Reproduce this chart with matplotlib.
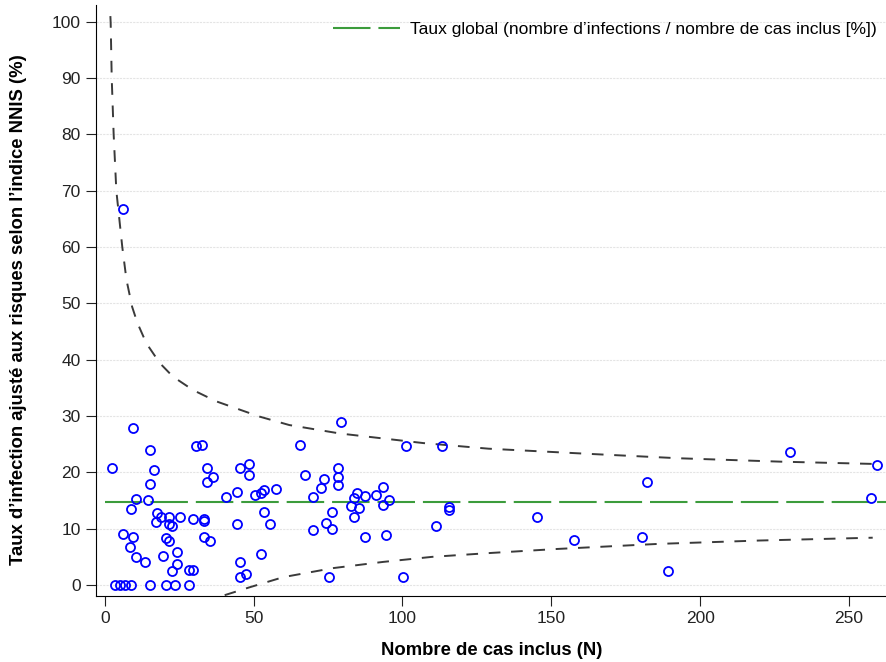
import matplotlib
matplotlib.use("Agg")
import matplotlib.pyplot as plt

# ---------------- data ----------------
cas_inclus = [
    9.5, 2.5, 15.2, 16.4, 15.2, 10.6, 14.4, 8.7, 17.4, 18.8,
    21.6, 25.3, 17.2, 21.5, 22.6, 6.2, 9.5, 20.5, 21.6, 8.6,
    10.6, 13.6, 19.7, 24.4, 24.4, 22.5, 28.2, 29.7, 6.2,
    3.4, 5.0, 6.7, 8.7, 15.2, 20.7, 23.6, 28.2,
    30.6, 32.7, 34.3, 36.4, 34.3, 29.7, 33.4, 33.4, 33.4, 35.5,
    40.7, 44.5, 45.4, 48.4, 48.4, 44.5, 45.4, 45.4, 47.3, 50.6,
    52.5, 53.4, 57.4, 53.4, 55.4, 52.5,
    79.3, 65.5, 101.1, 113.2, 67.4, 73.6, 72.7, 78.4, 78.4, 78.4,
    70.1, 76.4, 74.5, 76.4, 70.1, 75.4, 84.6, 83.7, 87.5, 82.6,
    85.5, 83.7, 87.5, 91.3, 93.6, 95.5, 93.6, 94.6, 100.2, 111.2,
    115.6, 115.6,
    182.3, 230.2, 259.3, 257.4, 145.3, 157.7, 180.4, 189.1,
]
taux = [
    27.8, 20.8, 23.9, 20.5, 18.0, 15.3, 15.1, 13.5, 12.7, 12.1,
    12.1, 12.1, 11.2, 10.8, 10.5, 9.0, 8.5, 8.3, 7.9, 6.7,
    4.9, 4.1, 5.2, 5.9, 3.7, 2.4, 2.7, 2.7, 66.8,
    0, 0, 0, 0, 0, 0, 0, 0,
    24.6, 24.8, 20.8, 19.1, 18.2, 11.8, 11.7, 11.4, 8.6, 7.9,
    15.6, 16.6, 20.8, 21.4, 19.5, 10.8, 4.1, 1.4, 1.9, 16.0,
    16.3, 16.8, 17.0, 13.0, 10.8, 5.5,
    28.9, 24.9, 24.6, 24.6, 19.5, 18.8, 17.3, 20.8, 19.2, 17.8,
    15.6, 13.0, 11.0, 10.0, 9.7, 1.4, 16.4, 15.5, 15.8, 14.0,
    13.7, 12.0, 8.5, 16.0, 17.4, 15.1, 14.2, 8.8, 1.4, 10.5,
    13.9, 13.3,
    18.3, 23.6, 21.3, 15.5, 12.0, 8.0, 8.5, 2.4,
]

taux_global = 14.7

# control limits
lim_sup_n = [1.9, 2.0, 2.35, 3.0, 3.9, 4.7, 5.9, 7.3, 9.2, 11, 14, 18.5,
             22.9, 29.7, 37.5, 52, 62, 79, 107, 129, 162, 193, 227, 258]
lim_sup_v = [101, 99.8, 90, 80, 70, 66, 60, 54.2, 49.4, 46.5, 42.9, 39.4,
             37, 34.6, 32.6, 29.9, 28.4, 26.9, 25.2, 24.2, 23.3, 22.5, 21.9, 21.5]
lim_inf_n = [40.3, 48.7, 60, 76.7, 93.5, 110, 130, 152, 186, 220, 258]
lim_inf_v = [-1.8, -0.4, 1.4, 3.0, 4.1, 5.0, 5.7, 6.4, 7.3, 7.9, 8.4]

xticks = [0, 50, 100, 150, 200, 250]
yticks = [0, 10, 20, 30, 40, 50, 60, 70, 80, 90, 100]

# ---------------------- plot ----------------------
plt.rcParams['font.family'] = ['Liberation Sans', 'DejaVu Sans']

fig = plt.figure(figsize=(8.87, 6.62), dpi=100)
ax = fig.add_axes([0.108, 0.0997, 0.892, 0.893])

ax.plot(lim_sup_n, lim_sup_v, color='#3a3a3a', lw=1.4, dashes=(6, 5.5), zorder=2)
ax.plot(lim_inf_n, lim_inf_v, color='#3a3a3a', lw=1.4, dashes=(6, 5.5), zorder=2)
ax.plot([0, 270], [taux_global, taux_global], color='#3c9c3c', lw=1.5,
        dashes=(18, 3.8), zorder=2,
        label='Taux global (nombre d\u2019infections / nombre de cas inclus [%])')
ax.plot(cas_inclus, taux, 'o', mfc='none', mec='#0000ff', ms=6.5, mew=1.3,
        zorder=3)

ax.set_xlim(-3, 262.8)
ax.set_ylim(-1.95, 103)
ax.set_xticks(xticks)
ax.set_yticks(yticks)
ax.yaxis.grid(True, color='#e4e4e4', lw=0.8, ls=(0, (2, 1)))
ax.set_axisbelow(True)
for s in ['top', 'right']:
    ax.spines[s].set_visible(False)
ax.tick_params(direction='out', length=7, labelsize=12.5, colors='#222222', pad=4)

lab = dict(weight='bold', size=13.3)
ax.set_xlabel('Nombre de cas inclus (N)', labelpad=11, **lab)
ax.set_ylabel('Taux d\u2019infection ajust\u00e9 aux risques selon l\u2019indice NNIS (%)', **lab)
ax.yaxis.set_label_coords(-0.087, 0.484)

leg = ax.legend(loc='upper right', bbox_to_anchor=(1.008, 1.0), frameon=False,
                fontsize=12.6, handlelength=3.8, handletextpad=0.57,
                borderaxespad=0.55)

fig.savefig('out.png', dpi=100)
